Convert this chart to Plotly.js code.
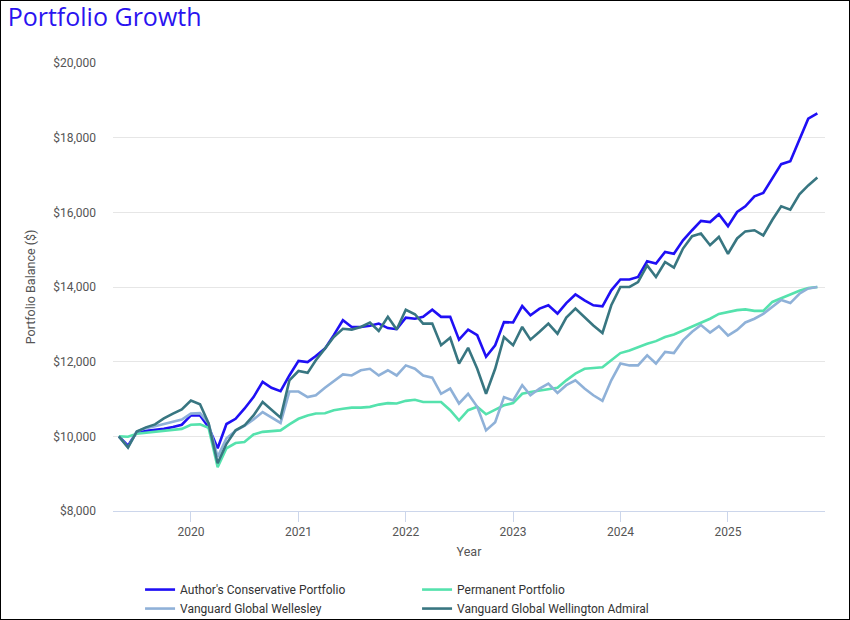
<!DOCTYPE html>
<html>
<head>
<meta charset="utf-8">
<script src="https://cdn.plot.ly/plotly-3.0.1.min.js"></script>
<style>
  html, body { margin: 0; padding: 0; background: #fff; }
  #wrap { position: relative; width: 850px; height: 620px; }
  #chart { width: 850px; height: 620px; }
  #frame { position: absolute; left: 0; top: 0; width: 850px; height: 620px; box-sizing: border-box; border: 1px solid #000; pointer-events: none; }
</style>
</head>
<body>
<div id="wrap"><div id="chart"></div><div id="frame"></div></div>
<script>
// Monthly observations, May 2019 .. Nov 2025
const startYear = 2019, startMonth = 5, nMonths = 79;

const authorsConservative = [
  10000, 9750, 10115, 10140, 10180, 10200, 10250, 10310, 10560, 10560,
  10250, 9680, 10330, 10470, 10740, 11050, 11460, 11300, 11210, 11630,
  12020, 11990, 12150, 12350, 12710, 13110, 12930, 12930, 12960, 13020,
  12900, 12870, 13180, 13150, 13200, 13390, 13200, 13200, 12590, 12860,
  12710, 12130, 12440, 13060, 13050, 13490, 13240, 13420, 13510, 13290,
  13570, 13800, 13640, 13510, 13480, 13910, 14200, 14200, 14270, 14690,
  14630, 14940, 14890, 15250, 15520, 15770, 15740, 15950, 15630, 16010,
  16160, 16430, 16520, 16900, 17290, 17370, 17930, 18510, 18650
];

const permanentPortfolio = [
  10000, 9990, 10070, 10100, 10130, 10150, 10170, 10200, 10310, 10320,
  10230, 9170, 9680, 9820, 9850, 10050, 10120, 10140, 10160, 10320,
  10470, 10560, 10610, 10620, 10700, 10740, 10770, 10770, 10790, 10850,
  10890, 10880, 10950, 10980, 10920, 10920, 10920, 10700, 10430, 10700,
  10790, 10590, 10710, 10830, 10890, 11140, 11190, 11230, 11280, 11300,
  11500, 11680, 11810, 11830, 11850, 12040, 12230, 12300, 12390, 12480,
  12550, 12660, 12730, 12840, 12930, 13040, 13150, 13280, 13330, 13380,
  13400, 13360, 13360, 13600, 13700, 13810, 13900, 13970, 14000
];

const vanguardWellesley = [
  10000, 9700, 10130, 10220, 10270, 10330, 10400, 10450, 10610, 10620,
  10350, 9450, 9950, 10150, 10280, 10450, 10650, 10500, 10360, 11200,
  11200, 11050, 11100, 11300, 11470, 11660, 11630, 11770, 11810, 11630,
  11770, 11630, 11900, 11810, 11630, 11570, 11140, 11280, 10880, 11140,
  10790, 10160, 10380, 11050, 10960, 11370, 11100, 11280, 11410, 11160,
  11370, 11500, 11280, 11100, 10950, 11500, 11950, 11900, 11900, 12170,
  11950, 12260, 12230, 12570, 12800, 12980, 12780, 12950, 12700, 12850,
  13050, 13150, 13280, 13460, 13650, 13570, 13820, 13960, 14000
];

const vanguardWellington = [
  10000, 9700, 10130, 10240, 10320, 10480, 10610, 10720, 10960, 10860,
  10350, 9280, 9800, 10160, 10290, 10560, 10920, 10700, 10500, 11500,
  11750, 11700, 12040, 12350, 12660, 12880, 12860, 12930, 13050, 12820,
  13200, 12860, 13390, 13270, 13020, 13020, 12440, 12640, 11950, 12370,
  11810, 11140, 11810, 12660, 12440, 12930, 12590, 12800, 13020, 12750,
  13180, 13420, 13180, 12970, 12770, 13510, 14000, 14000, 14130, 14580,
  14270, 14670, 14520, 15030, 15360, 15430, 15120, 15340, 14890, 15300,
  15490, 15520, 15380, 15800, 16160, 16070, 16480, 16720, 16930
];

const seriesNames = [
  "Author's Conservative Portfolio",
  "Permanent Portfolio",
  "Vanguard Global Wellesley",
  "Vanguard Global Wellington Admiral"
];
const seriesColors = ["#1f0ff5", "#55e2ad", "#8fb1d8", "#387681"];
const yTickVals = [8000, 10000, 12000, 14000, 16000, 18000, 20000];
const yTickText = ["$8,000", "$10,000", "$12,000", "$14,000", "$16,000", "$18,000", "$20,000"];
const xTickVals = ["2020-01-01", "2021-01-01", "2022-01-01", "2023-01-01", "2024-01-01", "2025-01-01"];
const xTickText = ["2020", "2021", "2022", "2023", "2024", "2025"];

const dates = [];
for (let i = 0; i < nMonths; i++) {
  const m0 = startMonth - 1 + i;
  const y = startYear + Math.floor(m0 / 12);
  const m = (m0 % 12) + 1;
  dates.push(y + "-" + String(m).padStart(2, "0") + "-01");
}

const allSeries = [authorsConservative, permanentPortfolio, vanguardWellesley, vanguardWellington];
const traces = allSeries.map((vals, k) => ({
  type: "scatter",
  mode: "lines",
  x: dates,
  y: vals,
  name: seriesNames[k],
  line: { color: seriesColors[k], width: 2.6 },
  hoverinfo: "skip"
}));

const layout = {
  width: 850,
  height: 620,
  paper_bgcolor: "#ffffff",
  plot_bgcolor: "#ffffff",
  margin: { l: 113, r: 25, t: 63, b: 109, autoexpand: false },
  font: { family: "Roboto, 'Open Sans', sans-serif", size: 12, color: "#555555" },
  title: {
    text: "Portfolio Growth",
    font: { family: "'Open Sans', 'Noto Sans', sans-serif", size: 25, color: "#2a13f0" },
    x: 0.009, xanchor: "left", xref: "container",
    y: 0.972, yanchor: "middle", yref: "container"
  },
  showlegend: true,
  legend: {
    orientation: "h",
    x: 0.038, xanchor: "left",
    y: -0.143, yanchor: "top",
    font: { family: "Roboto, sans-serif", size: 12, color: "#333333" },
    entrywidth: 232,
    entrywidthmode: "pixels",
    tracegroupgap: 0,
    itemwidth: 30
  },
  xaxis: {
    type: "date",
    range: ["2019-04-11", "2025-11-27"],
    tickvals: xTickVals,
    ticktext: xTickText,
    showgrid: false,
    showline: true,
    linecolor: "#ccd6eb",
    linewidth: 1,
    ticks: "outside",
    ticklen: 10,
    tickcolor: "#ccd6eb",
    tickfont: { size: 12, color: "#555555" },
    title: { text: "Year", font: { size: 12.5, color: "#555555" }, standoff: 8 },
    zeroline: false,
    fixedrange: true
  },
  yaxis: {
    range: [8000, 20000],
    tickvals: yTickVals,
    ticktext: yTickText,
    showgrid: true,
    gridcolor: "#e6e6e6",
    gridwidth: 1,
    zeroline: false,
    showline: false,
    ticks: "",
    ticklabelstandoff: 16,
    tickfont: { size: 12, color: "#555555" },
    title: { text: "Portfolio Balance ($)", font: { size: 12.5, color: "#555555" }, standoff: 14 },
    fixedrange: true
  }
};

Plotly.newPlot("chart", traces, layout, { displayModeBar: false, staticPlot: true });
</script>
</body>
</html>
